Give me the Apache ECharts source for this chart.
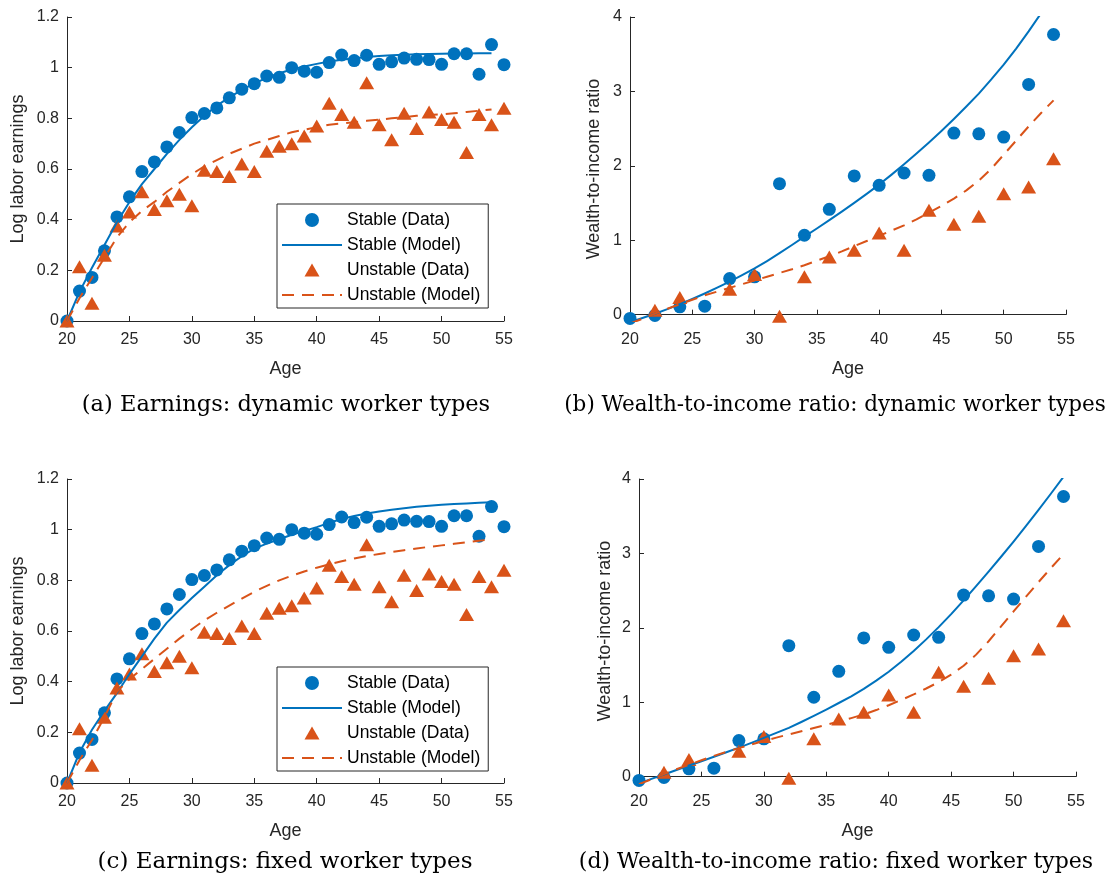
<!DOCTYPE html>
<html>
<head>
<meta charset="utf-8">
<script src="https://cdn.jsdelivr.net/npm/echarts@6/dist/echarts.min.js"></script>
<style>
html,body{margin:0;padding:0;background:#fff;}
#c{width:1107px;height:877px;}
</style>
</head>
<body>
<div id="c"></div>
<script>
// ---------- data ----------
const agesYearly = [20,21,22,23,24,25,26,27,28,29,30,31,32,33,34,35,36,37,38,39,40,41,42,43,44,45,46,47,48,49,50,51,52,53,54,55];
const agesModel  = [20,21,22,23,24,25,26,27,28,29,30,31,32,33,34,35,36,37,38,39,40,41,42,43,44,45,46,47,48,49,50,51,52,53,54];
const agesWealth = [20,22,24,26,28,30,32,34,36,38,40,42,44,46,48,50,52,54];

const xTicks = [20,25,30,35,40,45,50,55];
const earnTicks = [0,0.2,0.4,0.6,0.8,1,1.2];
const wealthTicks = [0,1,2,3,4];

const earnStableData = [0,0.118,0.172,0.277,0.411,0.490,0.590,0.628,0.687,0.744,0.803,0.819,0.841,0.881,0.915,0.937,0.967,0.962,1.000,0.986,0.982,1.020,1.050,1.028,1.049,1.013,1.023,1.038,1.033,1.032,1.013,1.055,1.055,0.974,1.091,1.012];
const earnUnstableData = [0,0.214,0.07,0.26,0.375,0.43,0.51,0.44,0.475,0.50,0.455,0.595,0.59,0.57,0.62,0.59,0.67,0.69,0.70,0.73,0.77,0.86,0.815,0.785,0.94,0.775,0.715,0.82,0.76,0.825,0.795,0.785,0.665,0.815,0.775,0.84];

const earnStableModelDyn = [0,0.115,0.21,0.30,0.39,0.47,0.54,0.60,0.66,0.715,0.765,0.81,0.85,0.883,0.912,0.938,0.96,0.978,0.993,1.005,1.015,1.024,1.031,1.037,1.042,1.046,1.049,1.051,1.053,1.054,1.055,1.056,1.056,1.057,1.057];
const earnUnstableModelDyn = [0,0.09,0.17,0.25,0.33,0.39,0.435,0.47,0.51,0.545,0.58,0.61,0.635,0.66,0.68,0.70,0.715,0.73,0.745,0.755,0.765,0.775,0.78,0.785,0.79,0.795,0.80,0.805,0.81,0.813,0.816,0.82,0.825,0.83,0.835];
const earnStableModelFix = [0,0.12,0.21,0.285,0.355,0.43,0.50,0.57,0.633,0.683,0.73,0.775,0.82,0.86,0.895,0.925,0.945,0.962,0.98,0.995,1.01,1.027,1.042,1.054,1.064,1.072,1.079,1.085,1.09,1.094,1.098,1.101,1.103,1.106,1.108];
const earnUnstableModelFix = [0,0.09,0.17,0.26,0.36,0.41,0.45,0.49,0.53,0.57,0.607,0.642,0.672,0.70,0.728,0.755,0.778,0.80,0.818,0.835,0.85,0.863,0.875,0.886,0.896,0.904,0.912,0.919,0.926,0.932,0.938,0.944,0.95,0.956,0.962];

const wealthStableData = [-0.05,-0.01,0.105,0.114,0.485,0.508,1.76,1.067,1.416,1.864,1.738,1.904,1.872,2.44,2.43,2.387,3.094,3.765];
const wealthUnstableData = [null,0.06,0.23,null,0.34,0.54,-0.02,0.51,0.776,0.866,1.098,0.866,1.403,1.215,1.322,1.626,1.715,2.096];

const wealthStableModelDyn = [-0.1,-0.045,0.013,0.075,0.141,0.211,0.285,0.363,0.445,0.531,0.621,0.721,0.826,0.936,1.048,1.158,1.27,1.385,1.503,1.624,1.748,1.882,2.021,2.165,2.314,2.469,2.63,2.797,2.971,3.161,3.361,3.576,3.806,4.051,4.3];
const wealthUnstableModelDyn = [-0.12,-0.055,0.015,0.08,0.14,0.2,0.26,0.31,0.36,0.41,0.46,0.51,0.56,0.61,0.665,0.725,0.785,0.85,0.92,0.99,1.06,1.13,1.2,1.28,1.37,1.46,1.56,1.67,1.8,1.96,2.15,2.34,2.53,2.71,2.88];
const wealthStableModelFix = [-0.09,-0.03,0.03,0.09,0.15,0.208,0.267,0.328,0.39,0.455,0.521,0.588,0.656,0.735,0.817,0.902,0.99,1.08,1.18,1.29,1.41,1.545,1.69,1.845,2.01,2.185,2.37,2.56,2.755,2.955,3.16,3.37,3.585,3.805,4.03];
const wealthUnstableModelFix = [-0.1,-0.035,0.035,0.1,0.16,0.22,0.28,0.333,0.384,0.433,0.48,0.525,0.568,0.611,0.654,0.697,0.741,0.787,0.837,0.895,0.96,1.03,1.105,1.185,1.27,1.37,1.49,1.64,1.82,2.02,2.22,2.42,2.615,2.805,2.99];

const seriesNames = ['Stable (Data)','Stable (Model)','Unstable (Data)','Unstable (Model)'];
const captions = ['(a) Earnings: dynamic worker types','(b) Wealth-to-income ratio: dynamic worker types','(c) Earnings: fixed worker types','(d) Wealth-to-income ratio: fixed worker types'];
const yNames = ['Log labor earnings','Wealth-to-income ratio','Log labor earnings','Wealth-to-income ratio'];
const xName = 'Age';

// ---------- build ----------
const BLUE = '#0072BD', ORANGE = '#D95319', AX = '#262626';
const SANS = '"Liberation Sans", Arial, Helvetica, sans-serif';
const SERIF = '"DejaVu Serif", serif';
const pair = (xs, ys) => xs.map((x, i) => [x, ys[i]]).filter(p => p[1] !== null && p[1] !== undefined);

const panels = [
  {grid:{left:67, top:17, width:437, height:304}, kind:'earn', sd:earnStableData, ud:earnUnstableData, sm:earnStableModelDyn, um:earnUnstableModelDyn, nameGapY:40},
  {grid:{left:630, top:17, width:436, height:304}, kind:'wealth', sd:wealthStableData, ud:wealthUnstableData, sm:wealthStableModelDyn, um:wealthUnstableModelDyn, nameGapY:27},
  {grid:{left:67, top:479, width:437, height:304}, kind:'earn', sd:earnStableData, ud:earnUnstableData, sm:earnStableModelFix, um:earnUnstableModelFix, nameGapY:40},
  {grid:{left:639, top:479, width:437, height:304}, kind:'wealth', sd:wealthStableData, ud:wealthUnstableData, sm:wealthStableModelFix, um:wealthUnstableModelFix, nameGapY:25}
];

const grids = [], xAxes = [], yAxes = [], series = [];
panels.forEach((p, i) => {
  grids.push(p.grid);
  xAxes.push({
    type:'value', gridIndex:i, min:20, max:55, interval:5,
    name:xName, nameLocation:'middle', nameGap:39,
    nameTextStyle:{fontSize:18, color:AX, fontFamily:SANS},
    axisLine:{show:true, lineStyle:{color:AX, width:1}},
    axisTick:{show:true, inside:true, length:5, lineStyle:{color:AX, width:1}, customValues:xTicks},
    axisLabel:{fontSize:16, color:AX, margin:11, fontFamily:SANS, customValues:xTicks},
    splitLine:{show:false}
  });
  const isEarn = p.kind === 'earn';
  yAxes.push({
    type:'value', gridIndex:i,
    min: isEarn ? 0 : -0.085, max: isEarn ? 1.2 : 4,
    name:yNames[i], nameLocation:'middle', nameGap:p.nameGapY, nameRotate:90,
    nameTextStyle:{fontSize:18, color:AX, fontFamily:SANS},
    axisLine:{show:true, lineStyle:{color:AX, width:1}},
    axisTick:{show:true, inside:true, length:5, lineStyle:{color:AX, width:1}, customValues: isEarn ? earnTicks : wealthTicks},
    axisLabel:{fontSize:16, color:AX, margin:8, fontFamily:SANS, customValues: isEarn ? earnTicks : wealthTicks},
    splitLine:{show:false}
  });
  const xsD = isEarn ? agesYearly : agesWealth;
  series.push({
    name:seriesNames[0], type:'scatter', xAxisIndex:i, yAxisIndex:i, clip:false,
    symbol:'circle', symbolSize:13, itemStyle:{color:BLUE, opacity:1},
    data:pair(xsD, p.sd)
  });
  series.push({
    name:seriesNames[1], type:'line', xAxisIndex:i, yAxisIndex:i, clip:true,
    symbol:'none', smooth:false, lineStyle:{color:BLUE, width:2, join:'round'}, itemStyle:{color:BLUE},
    data:pair(agesModel, p.sm)
  });
  series.push({
    name:seriesNames[2], type:'scatter', xAxisIndex:i, yAxisIndex:i, clip:false,
    symbol:'triangle', symbolSize:[15,13], itemStyle:{color:ORANGE, opacity:1},
    data:pair(xsD, p.ud)
  });
  series.push({
    name:seriesNames[3], type:'line', xAxisIndex:i, yAxisIndex:i, clip:true,
    symbol:'none', smooth:false, lineStyle:{color:ORANGE, width:2, type:[12,8], join:'round'}, itemStyle:{color:ORANGE},
    data:pair(agesModel, p.um)
  });
});

// legend icons drawn in a 60x14 frame (corner points fix the frame)
const FRAME = 'M0,0L0,0M60,14L60,14';
const legendIcons = [
  'circle',
  'path://' + FRAME + 'M0,6H60V8H0Z',
  'path://' + FRAME + 'M22.5,13.5L30,0.5L37.5,13.5Z',
  'path://' + FRAME + 'M0,6H12V8H0ZM20,6H32V8H20ZM40,6H52V8H40ZM58,6H60V8H58Z'
];
const legendBase = {
  orient:'vertical', selectedMode:false,
  data: seriesNames.map((n, k) => ({name:n, icon:legendIcons[k]})),
  itemWidth:60, itemHeight:14, itemGap:7,
  padding:[7,8,4,5],
  itemStyle:{borderWidth:0},
  borderColor:AX, borderWidth:1, backgroundColor:'#fff',
  textStyle:{fontSize:17.5, lineHeight:18, color:'#000', fontFamily:SANS}
};

const captionPos = [[286,405],[835,405],[285,862],[836,862]];
const captionSize = [22.5, 21.5, 23, 22];
const graphic = captions.map((t, i) => ({
  type:'text', x:captionPos[i][0], y:captionPos[i][1],
  style:{text:t, font:captionSize[i] + 'px ' + SERIF, fill:'#000', align:'center', verticalAlign:'middle'}
}));

const chart = echarts.init(document.getElementById('c'), null, {renderer:'canvas'});
chart.setOption({
  animation:false,
  backgroundColor:'#fff',
  grid:grids, xAxis:xAxes, yAxis:yAxes, series:series,
  legend:[
    Object.assign({}, legendBase, {left:277, top:204}),
    Object.assign({}, legendBase, {left:277, top:667})
  ],
  graphic:graphic
});
</script>
</body>
</html>
